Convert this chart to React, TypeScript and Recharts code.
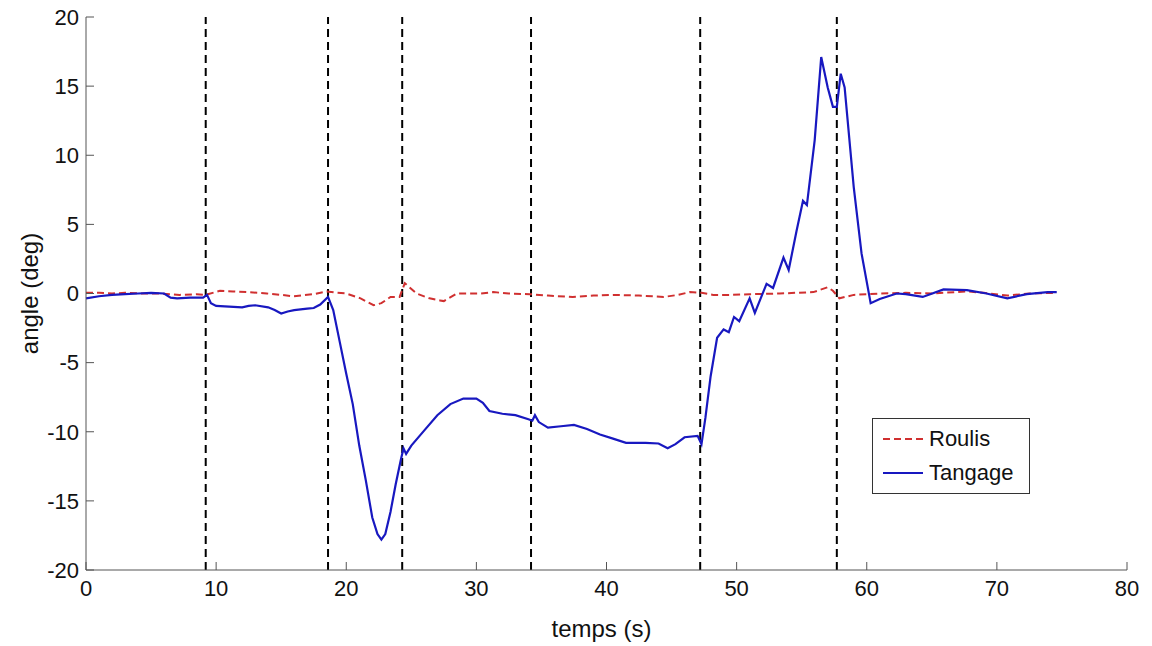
import { LineChart, Line, XAxis, YAxis, ReferenceLine, Legend } from 'recharts';

// temps (s) / angle (deg)
const tangageT = [0, 1, 2, 3, 4, 5, 6, 6.5, 7, 8, 9, 9.3, 9.6, 10, 11, 12, 12.5, 13, 14, 14.5, 15, 15.5, 16, 17, 17.5, 18, 18.6, 19, 19.5, 20, 20.5, 21, 21.5, 22, 22.4, 22.7, 23, 23.4, 23.8, 24.2, 24.4, 24.6, 25, 26, 27, 28, 29, 30, 30.5, 31, 32, 33, 34, 34.3, 34.5, 34.8, 35.5, 36.5, 37.5, 38.5, 39.5, 40.5, 41.5, 43, 44, 44.7, 45.3, 46, 47, 47.3, 47.6, 48, 48.5, 49, 49.4, 49.8, 50.2, 51, 51.4, 52.3, 52.8, 53.6, 54, 54.6, 55.1, 55.4, 56, 56.5, 57, 57.4, 57.7, 58, 58.3, 59, 59.6, 60.3, 61, 62.3, 63, 64.3, 65.9, 67.7, 69.2, 70.8, 72.3, 73.9, 74.6];
const tangageV = [-0.35, -0.2, -0.1, -0.05, 0, 0.05, 0, -0.3, -0.35, -0.3, -0.3, -0.1, -0.7, -0.9, -0.95, -1.0, -0.9, -0.85, -1.0, -1.2, -1.45, -1.3, -1.2, -1.1, -1.05, -0.8, -0.25, -1.2, -3.5, -5.8, -8.0, -11.0, -13.5, -16.2, -17.4, -17.8, -17.4, -15.8, -13.8, -12.0, -11.2, -11.6, -11.0, -9.9, -8.8, -8.0, -7.6, -7.6, -7.9, -8.5, -8.7, -8.8, -9.1, -9.2, -8.8, -9.3, -9.7, -9.6, -9.5, -9.8, -10.2, -10.5, -10.8, -10.8, -10.85, -11.2, -10.9, -10.4, -10.3, -10.9, -9.0, -6.0, -3.2, -2.6, -2.8, -1.7, -2.0, -0.35, -1.4, 0.7, 0.4, 2.6, 1.7, 4.5, 6.7, 6.4, 11.1, 17.1, 14.9, 13.5, 13.5, 15.9, 14.9, 7.7, 2.9, -0.7, -0.4, 0, -0.05, -0.25, 0.3, 0.25, 0, -0.35, -0.05, 0.1, 0.1];

const roulisT = [0, 1, 2, 3, 4.2, 5.5, 7.2, 8.5, 9.2, 10.3, 11.3, 12.4, 13.9, 15, 15.9, 17.5, 18.5, 19.3, 20, 21.1, 22.1, 22.7, 23.4, 24.1, 24.5, 25.4, 26.4, 27.2, 27.5, 28.5, 30.3, 31.3, 32.5, 34.1, 35.5, 37.4, 39, 40.5, 42.5, 44.4, 45.5, 46.4, 47.3, 48.2, 49.5, 51, 53.3, 55.9, 57, 57.4, 57.9, 59, 61, 63, 65, 67.7, 69, 70.8, 72.5, 74.5];
const roulisV = [0.05, 0.05, 0, 0.05, 0, 0, -0.1, -0.05, -0.1, 0.2, 0.15, 0.1, 0, -0.1, -0.2, -0.05, 0.15, 0.05, 0, -0.35, -0.85, -0.7, -0.25, -0.25, 0.75, 0, -0.35, -0.5, -0.55, 0, 0, 0.1, 0, -0.05, -0.15, -0.25, -0.15, -0.1, -0.15, -0.25, -0.1, 0.1, 0.05, -0.1, -0.1, -0.05, 0, 0.1, 0.45, 0.2, -0.35, -0.1, 0, 0.05, 0, 0.15, 0.05, -0.15, 0, 0.05];

const phases = [9.2, 18.6, 24.3, 34.2, 47.2, 57.7];
const xTicks = [0, 10, 20, 30, 40, 50, 60, 70, 80];
const yTicks = [-20, -15, -10, -5, 0, 5, 10, 15, 20];

const tangage = tangageT.map((t, i) => ({ t, v: tangageV[i] }));
const roulis = roulisT.map((t, i) => ({ t, v: roulisV[i] }));

const FONT = '"Liberation Sans", Arial, sans-serif';

function LegendBox() {
  const row = (label: string, color: string, dash?: string) => (
    <div style={{ display: 'flex', alignItems: 'center', height: 34 }}>
      <svg width={46} height={10} style={{ marginRight: 4 }}>
        <line x1={4} y1={5} x2={44} y2={5} stroke={color} strokeWidth={2} strokeDasharray={dash} />
      </svg>
      <span style={{ fontSize: 22, color: '#111' }}>{label}</span>
    </div>
  );
  return (
    <div style={{ border: '1px solid #333', background: '#fff', padding: '3px 6px 3px 6px', fontFamily: FONT, width: 144 }}>
      {row('Roulis', '#d03030', '7 4')}
      {row('Tangage', '#1818c0')}
    </div>
  );
}

export default function App() {
  return (
    <div style={{ position: 'absolute', left: 0, top: 0, background: '#fff' }}>
      <LineChart width={1152} height={646} margin={{ top: 17, right: 25, left: 0, bottom: 0 }}>
        <XAxis
          type="number"
          dataKey="t"
          domain={[0, 80]}
          ticks={xTicks}
          height={76}
          tickSize={-8}
          tickMargin={18}
          stroke="#555"
          tick={{ fill: '#111', fontSize: 22, fontFamily: FONT }}
          label={{ value: 'temps (s)', position: 'center', dy: 20, dx: -5, fill: '#111', fontSize: 24, fontFamily: FONT }}
        />
        <YAxis
          type="number"
          domain={[-20, 20]}
          ticks={yTicks}
          width={86}
          tickSize={-8}
          tickMargin={15}
          stroke="#555"
          tick={{ fill: '#111', fontSize: 22, fontFamily: FONT }}
          label={{ value: 'angle (deg)', angle: -90, position: 'center', dx: -14, fill: '#111', fontSize: 24, fontFamily: FONT }}
        />
        {phases.map((p) => (
          <ReferenceLine key={p} x={p} stroke="#000" strokeWidth={2} strokeDasharray="8 5" />
        ))}
        <Line data={roulis} dataKey="v" name="Roulis" type="linear" stroke="#d03030" strokeWidth={2} strokeDasharray="7 4" dot={false} isAnimationActive={false} />
        <Line data={tangage} dataKey="v" name="Tangage" type="linear" stroke="#1818c0" strokeWidth={2.2} dot={false} isAnimationActive={false} />
        <Legend
          layout="vertical"
          verticalAlign="middle"
          align="center"
          content={() => <LegendBox />}
          wrapperStyle={{ left: 872, top: 418, width: 158 }}
        />
      </LineChart>
    </div>
  );
}
